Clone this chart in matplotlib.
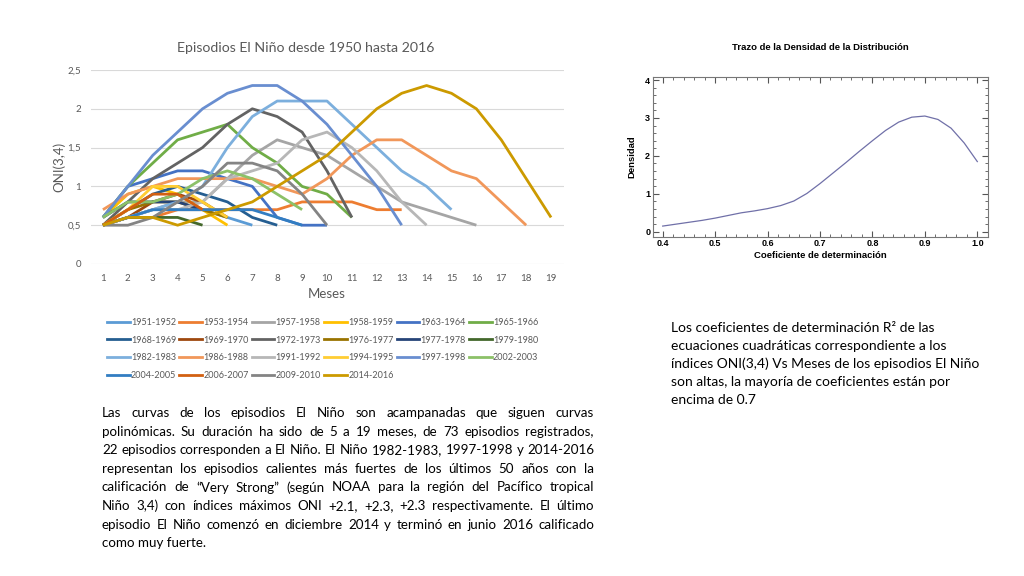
import matplotlib
matplotlib.use("Agg")
import matplotlib.pyplot as plt
from matplotlib.ticker import MultipleLocator, AutoMinorLocator
from matplotlib.lines import Line2D

# ---------------- data: left chart ----------------
episodes = ["1951-1952", "1953-1954", "1957-1958", "1958-1959", "1963-1964", "1965-1966",
            "1968-1969", "1969-1970", "1972-1973", "1976-1977", "1977-1978", "1979-1980",
            "1982-1983", "1986-1988", "1991-1992", "1994-1995", "1997-1998", "2002-2003",
            "2004-2005", "2006-2007", "2009-2010", "2014-2016"]

oni_1951 = [0.5, 0.6, 0.7, 0.7, 0.7, 0.6, 0.5]
oni_1953 = [0.5, 0.6, 0.6, 0.7, 0.7, 0.7, 0.7, 0.7, 0.8, 0.8, 0.8, 0.7, 0.7]
oni_1957 = [0.5, 0.6, 0.7, 0.8, 0.8, 1.1, 1.4, 1.6, 1.5, 1.4, 1.2, 1.0, 0.8, 0.7, 0.6, 0.5]
oni_1958 = [0.6, 0.9, 1.0, 0.9, 0.7, 0.5]
oni_1963 = [0.6, 1.0, 1.1, 1.2, 1.2, 1.1, 1.0, 0.6, 0.5, 0.5]
oni_1965 = [0.6, 1.0, 1.3, 1.6, 1.7, 1.8, 1.5, 1.3, 1.0, 0.9, 0.6]
oni_1968 = [0.5, 0.7, 0.9, 1.0, 0.9, 0.8, 0.6, 0.5]
oni_1969 = [0.5, 0.6, 0.8, 0.9, 0.8, 0.6]
oni_1972 = [0.5, 0.8, 1.1, 1.3, 1.5, 1.8, 2.0, 1.9, 1.7, 1.2, 0.6]
oni_1976 = [0.5, 0.7, 0.8, 0.8, 0.7, 0.6]
oni_1977 = [0.6, 0.8, 0.8, 0.8, 0.7]
oni_1979 = [0.5, 0.6, 0.6, 0.6, 0.5]
oni_1982 = [0.5, 0.6, 0.7, 0.8, 1.0, 1.5, 1.9, 2.1, 2.1, 2.1, 1.8, 1.5, 1.2, 1.0, 0.7]
oni_1986 = [0.7, 0.9, 1.0, 1.1, 1.1, 1.1, 1.1, 1.0, 0.9, 1.1, 1.4, 1.6, 1.6, 1.4, 1.2, 1.1, 0.8, 0.5]
oni_1991 = [0.5, 0.6, 0.7, 0.7, 0.8, 1.1, 1.2, 1.3, 1.6, 1.7, 1.5, 1.2, 0.8, 0.5]
oni_1994 = [0.5, 0.7, 1.0, 1.0, 0.8, 0.6]
oni_1997 = [0.6, 1.0, 1.4, 1.7, 2.0, 2.2, 2.3, 2.3, 2.1, 1.8, 1.4, 1.0, 0.5]
oni_2002 = [0.6, 0.8, 0.8, 0.9, 1.1, 1.2, 1.1, 0.9, 0.7]
oni_2004 = [0.5, 0.6, 0.7, 0.7, 0.7, 0.7, 0.7, 0.6, 0.5]
oni_2006 = [0.5, 0.7, 0.9, 0.9, 0.7]
oni_2009 = [0.5, 0.5, 0.6, 0.8, 1.0, 1.3, 1.3, 1.2, 0.9, 0.5]
oni_2014 = [0.5, 0.6, 0.6, 0.5, 0.6, 0.7, 0.8, 1.0, 1.2, 1.4, 1.7, 2.0, 2.2, 2.3, 2.2, 2.0, 1.6, 1.1, 0.6]

series = [oni_1951, oni_1953, oni_1957, oni_1958, oni_1963, oni_1965, oni_1968, oni_1969,
          oni_1972, oni_1976, oni_1977, oni_1979, oni_1982, oni_1986, oni_1991, oni_1994,
          oni_1997, oni_2002, oni_2004, oni_2006, oni_2009, oni_2014]

colors = ["#5B9BD5", "#ED7D31", "#A5A5A5", "#FFC000", "#4472C4", "#70AD47",
          "#255E91", "#9E480E", "#636363", "#997300", "#264478", "#43682B",
          "#7CAFDD", "#F1975A", "#B7B7B7", "#FFCD33", "#698ED0", "#8CC168",
          "#327DC2", "#D26012", "#848484", "#CC9A00"]

months = list(range(1, 20))
y_ticks = [0, 0.5, 1, 1.5, 2, 2.5]
y_tick_labels = ["0", "0,5", "1", "1,5", "2", "2,5"]

# ---------------- data: right chart ----------------
r2 = [0.400, 0.425, 0.450, 0.475, 0.500, 0.525, 0.550, 0.575, 0.600, 0.625, 0.650, 0.675,
      0.700, 0.725, 0.750, 0.775, 0.800, 0.825, 0.850, 0.875, 0.900, 0.925, 0.950, 0.975, 1.000]
density = [0.15, 0.20, 0.25, 0.30, 0.36, 0.43, 0.50, 0.55, 0.61, 0.69, 0.81, 1.01,
           1.27, 1.55, 1.83, 2.12, 2.40, 2.67, 2.89, 3.02, 3.05, 2.96, 2.73, 2.34, 1.85]

left_text = [
    "Las curvas de los episodios El Niño son acampanadas que siguen curvas",
    "polinómicas. Su duración  ha sido de 5 a 19 meses, de 73 episodios registrados,",
    "22 episodios corresponden a El Niño. El Niño 1982-1983, 1997-1998 y 2014-2016",
    "representan los episodios calientes más fuertes de los últimos 50 años con la",
    "calificación de “Very Strong” (según NOAA para la región del Pacífico tropical",
    "Niño 3,4) con índices máximos ONI +2.1, +2.3, +2.3 respectivamente. El último",
    "episodio El Niño comenzó en diciembre 2014 y terminó en junio 2016 calificado",
    "como muy fuerte.",
]
right_text = [
    "Los coeficientes de determinación R² de las",
    "ecuaciones cuadráticas correspondiente a los",
    "índices ONI(3,4) Vs Meses de los episodios El Niño",
    "son altas, la mayoría de coeficientes están por",
    "encima de 0.7",
]

W, H = 1024, 576
fig = plt.figure(figsize=(W / 100, H / 100), dpi=100)
fig.patch.set_facecolor("white")
GRAY = "#595959"
SANS = ["Lato", "DejaVu Sans"]

# ---------------- left chart ----------------
ax = fig.add_axes([90.5 / W, 1 - 264 / H, 473 / W, 194 / H])
for vals, c in zip(series, colors):
    ax.plot(months[:len(vals)], vals, color=c, lw=2.0, solid_capstyle="butt", zorder=3)
ax.set_xlim(0.5, 19.5)
ax.set_ylim(0, 2.5)
ax.set_yticks(y_ticks)
ax.set_yticklabels(y_tick_labels)
ax.set_xticks(months)
for s in ax.spines.values():
    s.set_visible(False)
ax.grid(axis="y", color="#D9D9D9", lw=0.8, zorder=0)
ax.tick_params(length=0, labelsize=7, labelcolor=GRAY, pad=7)
for lab in ax.get_xticklabels() + ax.get_yticklabels():
    lab.set_family(SANS)
ax.set_xlabel("Meses", fontsize=9.5, color=GRAY, family=SANS, labelpad=4)
ax.set_ylabel("ONI(3,4)", fontsize=9.5, color=GRAY, family=SANS, labelpad=1)
fig.text(306 / W, 1 - 48 / H, "Episodios El Niño desde 1950 hasta 2016", ha="center", va="center",
         fontsize=10.2, color=GRAY, family=SANS)

# legend, row-major order
handles = [Line2D([], [], color=c, lw=2.0) for c in colors]
order = []
for c in range(6):
    for r in range(4):
        i = r * 6 + c
        if i < len(episodes):
            order.append(i)
leg = fig.legend([handles[i] for i in order], [episodes[i] for i in order], ncol=6,
                 loc="upper left", bbox_to_anchor=(107 / W, 1 - 318 / H), frameon=False,
                 prop={"family": SANS, "size": 6.5}, handlelength=2.5, handletextpad=0.15,
                 columnspacing=0.35, labelspacing=0.95, borderaxespad=0, borderpad=0)
for t in leg.get_texts():
    t.set_color(GRAY)

# ---------------- right chart ----------------
ax2 = fig.add_axes([653 / W, 1 - 236.7 / H, 335 / W, 160 / H])
ax2.plot(r2, density, color="#7070A8", lw=0.9)
ax2.set_xlim(0.3815, 1.0204)
ax2.set_ylim(-0.13, 4.087)
ax2.xaxis.set_major_locator(MultipleLocator(0.1))
ax2.yaxis.set_major_locator(MultipleLocator(1))
ax2.xaxis.set_minor_locator(AutoMinorLocator(5))
ax2.yaxis.set_minor_locator(AutoMinorLocator(5))
ax2.tick_params(which="both", direction="in", top=True, right=True, color="#555555",
                labelsize=6.5, pad=2)
ax2.tick_params(which="major", length=4, width=0.8)
ax2.tick_params(which="minor", length=2, width=0.6)
for s in ax2.spines.values():
    s.set_color("#777777")
    s.set_linewidth(0.8)
for lab in ax2.get_xticklabels() + ax2.get_yticklabels():
    lab.set_family("Liberation Sans")
    lab.set_fontweight("bold")
ax2.set_xlabel("Coeficiente de determinación", fontsize=6.8, fontweight="bold",
               family="Liberation Sans", labelpad=2)
ax2.set_ylabel("Densidad", fontsize=6.8, fontweight="bold", family="Liberation Sans", labelpad=6)
fig.text(820 / W, 1 - 48 / H, "Trazo de la Densidad de la Distribución", ha="center", va="center",
         fontsize=6.8, fontweight="bold", family="Liberation Sans")

# ---------------- texts ----------------
renderer = fig.canvas.get_renderer()
x0, x1 = 102, 594
y0, dy = 413, 18.6
FS = 9.6
for i, line in enumerate(left_text):
    yy = 1 - (y0 + i * dy) / H
    if i == len(left_text) - 1:
        fig.text(x0 / W, yy, line, fontsize=FS, family=SANS, va="center", ha="left")
        continue
    words = line.split()
    objs = [fig.text(0, yy, w, fontsize=FS, family=SANS, va="center", ha="left") for w in words]
    widths = [o.get_window_extent(renderer).width for o in objs]
    gap = (x1 - x0 - sum(widths)) / (len(words) - 1)
    xx = x0
    for o, w in zip(objs, widths):
        o.set_x(xx / W)
        xx += w + gap

for i, line in enumerate(right_text):
    fig.text(671 / W, 1 - (328 + i * 18) / H, line, fontsize=10, family=SANS, va="center", ha="left")

fig.savefig("out.png", dpi=100, facecolor="white")
